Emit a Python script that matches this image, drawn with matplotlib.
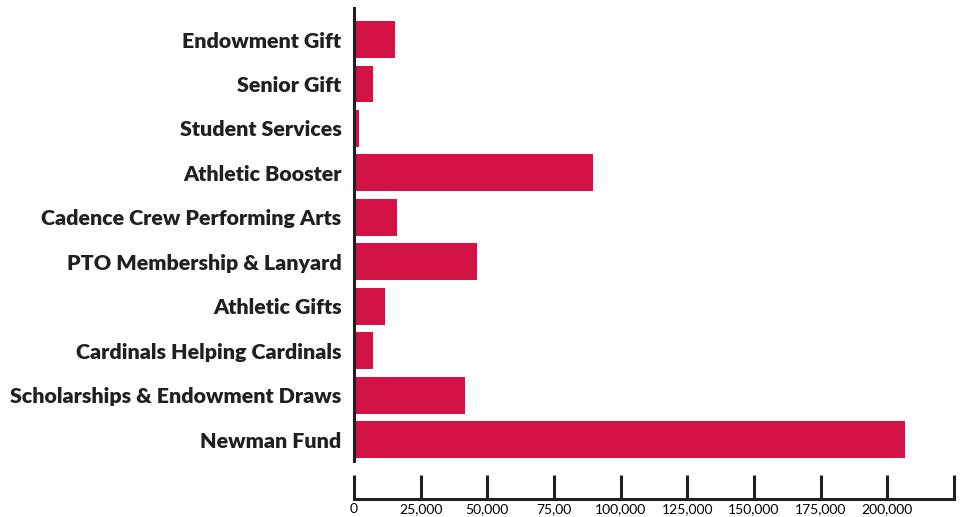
import matplotlib
matplotlib.use("Agg")
import matplotlib.pyplot as plt

categories = ["Endowment Gift", "Senior Gift", "Student Services", "Athletic Booster",
              "Cadence Crew Performing Arts", "PTO Membership & Lanyard", "Athletic Gifts",
              "Cardinals Helping Cardinals", "Scholarships & Endowment Draws", "Newman Fund"]
values = [15400, 7200, 1900, 89800, 16200, 46200, 11700, 7200, 41700, 206800]
tick_values = [0, 25000, 50000, 75000, 100000, 125000, 150000, 175000, 200000, 225000]
tick_labels = ["0", "25,000", "50,000", "75,00", "100,000", "125,000", "150,000",
               "175,000", "200,000", ""]

bar_color = "#D31245"
ink = "#231F20"
plt.rcParams["font.family"] = ["Lato", "DejaVu Sans"]

fig = plt.figure(figsize=(9.64, 5.17), dpi=100)
ax = fig.add_axes([354 / 964, 1 - 461 / 517, 600 / 964, 453 / 517])

ypos = list(range(len(categories)))
ax.barh(ypos, values, height=0.83, color=bar_color, zorder=2)
ax.set_ylim(len(categories) - 1 + 0.48, -0.71)
ax.set_xlim(0, 225000)

ax.set_yticks(ypos)
ax.set_yticklabels(categories, fontsize=15.4, fontweight="heavy", color=ink)
ax.tick_params(axis="y", length=0, pad=9)

ax.set_xticks(tick_values)
ax.set_xticklabels(tick_labels, fontsize=8.6, fontweight="heavy", color=ink)
ax.tick_params(axis="x", direction="in", length=17.5, width=2.2, color=ink, pad=3)

for s in ["top", "right"]:
    ax.spines[s].set_visible(False)
ax.spines["left"].set_linewidth(2.2)
ax.spines["left"].set_color(ink)
ax.spines["bottom"].set_linewidth(2.2)
ax.spines["bottom"].set_color(ink)
ax.spines["bottom"].set_position(("outward", 27.4))
ax.spines["bottom"].set_capstyle("projecting")

fig.savefig("out.png", dpi=100)
